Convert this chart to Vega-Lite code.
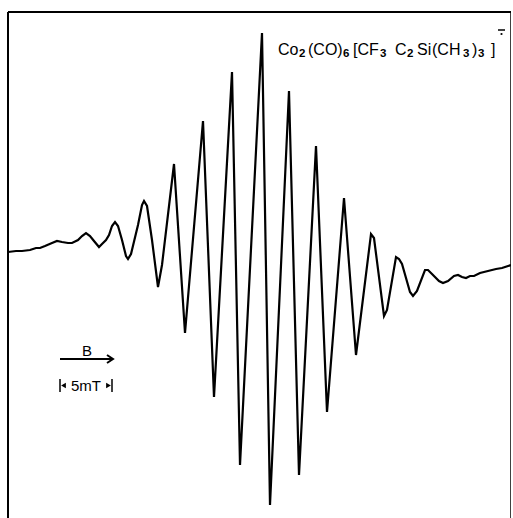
{
  "$schema": "https://vega.github.io/schema/vega-lite/v6.json",
  "width": 503,
  "height": 508,
  "autosize": {"type": "none"},
  "padding": {"left": 8, "top": 12, "right": 0, "bottom": 0},
  "background": "white",
  "config": {"view": {"stroke": null}},
  "datasets": {
    "spectrum": [
      {"field": 0, "signal": 0}, {"field": 8, "signal": 1}, {"field": 14, "signal": 1}, {"field": 22, "signal": 2},
      {"field": 28, "signal": 4}, {"field": 32, "signal": 4}, {"field": 37, "signal": 6}, {"field": 44, "signal": 9},
      {"field": 49, "signal": 11}, {"field": 54, "signal": 10}, {"field": 60, "signal": 9}, {"field": 64, "signal": 9},
      {"field": 70, "signal": 12}, {"field": 74, "signal": 16}, {"field": 78, "signal": 19}, {"field": 82, "signal": 16},
      {"field": 86, "signal": 11}, {"field": 91, "signal": 5}, {"field": 94, "signal": 8}, {"field": 98, "signal": 12},
      {"field": 101, "signal": 17}, {"field": 104, "signal": 26}, {"field": 107, "signal": 30}, {"field": 110, "signal": 26},
      {"field": 114, "signal": 12}, {"field": 118, "signal": -4}, {"field": 120, "signal": -7}, {"field": 123, "signal": -2},
      {"field": 130, "signal": 27}, {"field": 134, "signal": 47}, {"field": 136, "signal": 51}, {"field": 139, "signal": 46},
      {"field": 144, "signal": 12}, {"field": 150, "signal": -35}, {"field": 154, "signal": -13},
      {"field": 166, "signal": 88}, {"field": 177, "signal": -81}, {"field": 195, "signal": 131},
      {"field": 206, "signal": -145}, {"field": 224, "signal": 180}, {"field": 232, "signal": -213}, {"field": 254, "signal": 219},
      {"field": 262, "signal": -253}, {"field": 281, "signal": 161}, {"field": 291, "signal": -223}, {"field": 308, "signal": 106},
      {"field": 319, "signal": -160}, {"field": 336, "signal": 54}, {"field": 348, "signal": -103}, {"field": 363, "signal": 18},
      {"field": 366, "signal": 14}, {"field": 376, "signal": -64}, {"field": 379, "signal": -58}, {"field": 388, "signal": -5},
      {"field": 391, "signal": -7}, {"field": 394, "signal": -12}, {"field": 402, "signal": -40}, {"field": 405, "signal": -44},
      {"field": 409, "signal": -39}, {"field": 417, "signal": -18}, {"field": 420, "signal": -18}, {"field": 424, "signal": -22},
      {"field": 431, "signal": -29}, {"field": 435, "signal": -31}, {"field": 440, "signal": -29}, {"field": 446, "signal": -24},
      {"field": 450, "signal": -23}, {"field": 454, "signal": -25}, {"field": 458, "signal": -26}, {"field": 462, "signal": -24},
      {"field": 466, "signal": -24}, {"field": 472, "signal": -21}, {"field": 480, "signal": -19}, {"field": 488, "signal": -17},
      {"field": 494, "signal": -16}, {"field": 503, "signal": -13}
    ],
    "arrow": [
      {"part": "shaft", "order": 0, "field": 52, "signal": -107},
      {"part": "shaft", "order": 1, "field": 105, "signal": -107},
      {"part": "head", "order": 0, "field": 99, "signal": -103},
      {"part": "head", "order": 1, "field": 105, "signal": -107},
      {"part": "head", "order": 2, "field": 99, "signal": -111}
    ],
    "title": [
      {"role": "main", "field": 270, "signal": 197, "text": "Co"},
      {"role": "sub", "field": 291, "signal": 195, "text": "2"},
      {"role": "main", "field": 300, "signal": 197, "text": "(CO)"},
      {"role": "sub", "field": 335, "signal": 195, "text": "6"},
      {"role": "main", "field": 345, "signal": 197, "text": "[CF"},
      {"role": "sub", "field": 372, "signal": 195, "text": "3"},
      {"role": "main", "field": 387, "signal": 197, "text": "C"},
      {"role": "sub", "field": 399, "signal": 195, "text": "2"},
      {"role": "main", "field": 409, "signal": 197, "text": "Si"},
      {"role": "main", "field": 424, "signal": 197, "text": "(CH"},
      {"role": "sub", "field": 455, "signal": 195, "text": "3"},
      {"role": "main", "field": 464, "signal": 197, "text": ")"},
      {"role": "sub", "field": 470, "signal": 195, "text": "3"},
      {"role": "main", "field": 483, "signal": 197, "text": "]"}
    ],
    "charge": [
      {"field": 490, "field2": 497, "signal": 222}
    ],
    "chargeDot": [
      {"field": 493.5, "signal": 218}
    ],
    "scaleBar": [
      {"field": 52, "signal": -127, "signal2": -140},
      {"field": 104, "signal": -127, "signal2": -140}
    ],
    "scaleHeads": [
      {"field": 55.5, "signal": -133.5, "dir": "triangle-left"},
      {"field": 100.5, "signal": -133.5, "dir": "triangle-right"}
    ],
    "labels": [
      {"field": 79, "signal": -99, "text": "B"},
      {"field": 78, "signal": -133.5, "text": "5mT"}
    ]
  },
  "layer": [
    {
      "data": {"values": [{"edge": 0}]},
      "mark": {"type": "rule", "color": "black", "strokeWidth": 2},
      "encoding": {"x": {"datum": 0, "type": "quantitative", "scale": {"domain": [0, 503], "nice": false, "zero": false}, "axis": null}}
    },
    {
      "data": {"values": [{"edge": 503}]},
      "mark": {"type": "rule", "color": "black", "strokeWidth": 1.5},
      "encoding": {"x": {"datum": 503, "type": "quantitative", "scale": {"domain": [0, 503], "nice": false, "zero": false}, "axis": null}}
    },
    {
      "data": {"values": [{"edge": 240}]},
      "mark": {"type": "rule", "color": "black", "strokeWidth": 2},
      "encoding": {"y": {"datum": 240, "type": "quantitative", "scale": {"domain": [-268, 240], "nice": false, "zero": false}, "axis": null}}
    },
    {
      "data": {"name": "spectrum"},
      "mark": {"type": "line", "color": "black", "strokeWidth": 2.2, "strokeJoin": "miter", "strokeMiterLimit": 4},
      "encoding": {
        "x": {"field": "field", "type": "quantitative", "scale": {"domain": [0, 503], "nice": false, "zero": false}, "axis": null},
        "y": {"field": "signal", "type": "quantitative", "scale": {"domain": [-268, 240], "nice": false, "zero": false}, "axis": null},
        "order": {"field": "field"}
      }
    },
    {
      "data": {"name": "arrow"},
      "mark": {"type": "line", "color": "black", "strokeWidth": 2},
      "encoding": {
        "x": {"field": "field", "type": "quantitative", "scale": {"domain": [0, 503], "nice": false, "zero": false}, "axis": null},
        "y": {"field": "signal", "type": "quantitative", "scale": {"domain": [-268, 240], "nice": false, "zero": false}, "axis": null},
        "detail": {"field": "part"},
        "order": {"field": "order"}
      }
    },
    {
      "data": {"name": "title"},
      "transform": [{"filter": "datum.role == 'main'"}],
      "mark": {"type": "text", "align": "left", "baseline": "alphabetic", "font": "Liberation Sans", "fontSize": 16, "color": "black"},
      "encoding": {
        "x": {"field": "field", "type": "quantitative", "scale": {"domain": [0, 503], "nice": false, "zero": false}, "axis": null},
        "y": {"field": "signal", "type": "quantitative", "scale": {"domain": [-268, 240], "nice": false, "zero": false}, "axis": null},
        "text": {"field": "text"}
      }
    },
    {
      "data": {"name": "title"},
      "transform": [{"filter": "datum.role == 'sub'"}],
      "mark": {"type": "text", "align": "left", "baseline": "alphabetic", "font": "Liberation Sans", "fontSize": 11.5, "fontWeight": "bold", "color": "black"},
      "encoding": {
        "x": {"field": "field", "type": "quantitative", "scale": {"domain": [0, 503], "nice": false, "zero": false}, "axis": null},
        "y": {"field": "signal", "type": "quantitative", "scale": {"domain": [-268, 240], "nice": false, "zero": false}, "axis": null},
        "text": {"field": "text"}
      }
    },
    {
      "data": {"name": "charge"},
      "mark": {"type": "rule", "color": "black", "strokeWidth": 1.5},
      "encoding": {
        "x": {"field": "field", "type": "quantitative", "scale": {"domain": [0, 503], "nice": false, "zero": false}, "axis": null},
        "x2": {"field": "field2"},
        "y": {"field": "signal", "type": "quantitative", "scale": {"domain": [-268, 240], "nice": false, "zero": false}, "axis": null}
      }
    },
    {
      "data": {"name": "chargeDot"},
      "mark": {"type": "point", "shape": "circle", "filled": true, "color": "black", "size": 5, "opacity": 1},
      "encoding": {
        "x": {"field": "field", "type": "quantitative", "scale": {"domain": [0, 503], "nice": false, "zero": false}, "axis": null},
        "y": {"field": "signal", "type": "quantitative", "scale": {"domain": [-268, 240], "nice": false, "zero": false}, "axis": null}
      }
    },
    {
      "data": {"name": "scaleBar"},
      "mark": {"type": "rule", "color": "black", "strokeWidth": 1.5},
      "encoding": {
        "x": {"field": "field", "type": "quantitative", "scale": {"domain": [0, 503], "nice": false, "zero": false}, "axis": null},
        "y": {"field": "signal", "type": "quantitative", "scale": {"domain": [-268, 240], "nice": false, "zero": false}, "axis": null},
        "y2": {"field": "signal2"}
      }
    },
    {
      "data": {"name": "scaleHeads"},
      "mark": {"type": "point", "filled": true, "color": "black", "size": 30, "opacity": 1},
      "encoding": {
        "x": {"field": "field", "type": "quantitative", "scale": {"domain": [0, 503], "nice": false, "zero": false}, "axis": null},
        "y": {"field": "signal", "type": "quantitative", "scale": {"domain": [-268, 240], "nice": false, "zero": false}, "axis": null},
        "shape": {"field": "dir", "type": "nominal", "scale": null, "legend": null}
      }
    },
    {
      "data": {"name": "labels"},
      "mark": {"type": "text", "align": "center", "baseline": "middle", "font": "Liberation Sans", "fontSize": 15, "color": "black"},
      "encoding": {
        "x": {"field": "field", "type": "quantitative", "scale": {"domain": [0, 503], "nice": false, "zero": false}, "axis": null},
        "y": {"field": "signal", "type": "quantitative", "scale": {"domain": [-268, 240], "nice": false, "zero": false}, "axis": null},
        "text": {"field": "text"}
      }
    }
  ]
}
